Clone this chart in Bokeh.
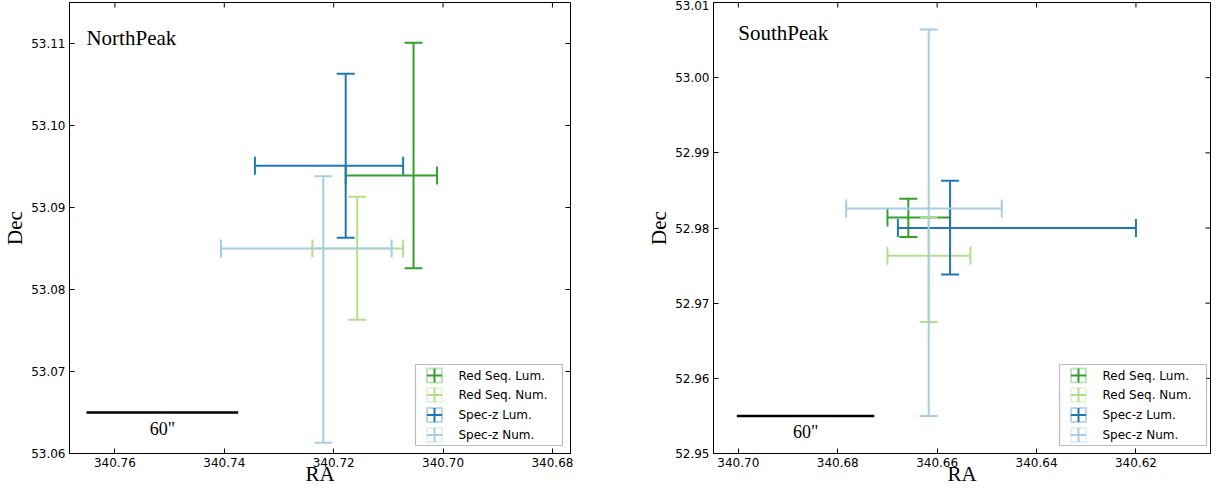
import math
from bokeh.plotting import figure
from bokeh.models import (Range1d, FixedTicker, PrintfTickFormatter, Whisker,
                          TeeHead, ColumnDataSource, BoxAnnotation, Label)
from bokeh.layouts import row
from bokeh.embed import file_html
from bokeh.resources import INLINE

SERIES = ["Red Seq. Lum.", "Red Seq. Num.", "Spec-z Lum.", "Spec-z Num."]
COLORS = ["#33a02c", "#b2df8a", "#1f78b4", "#a6cee3"]

# ---- NorthPeak (RA/Dec centres and error-bar extents, degrees)
N_RA      = [340.7054, 340.7157, 340.7178, 340.7219]
N_RA_EAST = [340.7178, 340.7239, 340.7344, 340.7406]
N_RA_WEST = [340.7011, 340.7073, 340.7073, 340.7094]
N_DEC     = [53.0939, 53.0850, 53.0951, 53.0850]
N_DEC_LO  = [53.0826, 53.0763, 53.0863, 53.0613]
N_DEC_HI  = [53.1101, 53.0913, 53.1063, 53.0938]

# ---- SouthPeak
S_RA      = [340.6658, 340.6617, 340.6574, 340.6617]
S_RA_EAST = [340.6700, 340.6700, 340.6679, 340.6783]
S_RA_WEST = [340.6574, 340.6533, 340.6200, 340.6470]
S_DEC     = [52.9814, 52.9763, 52.9800, 52.9826]
S_DEC_LO  = [52.9788, 52.9675, 52.9738, 52.9550]
S_DEC_HI  = [52.9839, 52.9814, 52.9863, 53.0064]

N_XRANGE, N_YRANGE = (340.7683, 340.6767), (53.06, 53.115)
S_XRANGE, S_YRANGE = (340.705, 340.605), (52.95, 53.01)
N_XTICKS = [340.76, 340.74, 340.72, 340.70, 340.68]
N_YTICKS = [53.06, 53.07, 53.08, 53.09, 53.10, 53.11]
S_XTICKS = [340.70, 340.68, 340.66, 340.64, 340.62]
S_YTICKS = [52.95, 52.96, 52.97, 52.98, 52.99, 53.00, 53.01]

SCALE_ARCSEC = 60
N_SCALE_RA0, N_SCALE_DEC = 340.7652, 53.065
S_SCALE_RA0, S_SCALE_DEC = 340.7003, 52.955
N_TITLE_POS = (340.7652, 53.1107)
S_TITLE_POS = (340.7000, 53.0060)

SERIF = "Liberation Serif"
SANS = "DejaVu Sans"


def style_axes(p, xt, yt, xr, yr):
    p.grid.visible = False
    p.outline_line_color = "black"
    p.outline_line_width = 1
    bx = p.below[0]
    ly = p.left[0]
    for ax, t in ((bx, xt), (ly, yt)):
        ax.axis_line_color = "black"
        ax.major_tick_line_color = "black"
        ax.major_tick_in = 5
        ax.major_tick_out = 0
        ax.minor_tick_line_color = None
        ax.ticker = FixedTicker(ticks=t)
        ax.formatter = PrintfTickFormatter(format="%.2f")
        ax.major_label_text_font = SANS
        ax.major_label_text_font_size = "12px"
        ax.major_label_text_color = "black"
        ax.major_label_standoff = 4
        ax.axis_label_text_font = SERIF
        ax.axis_label_text_font_size = "21px"
        ax.axis_label_text_font_style = "normal"
        ax.axis_label_text_color = "black"
    bx.axis_label = "RA"
    ly.axis_label = "Dec"
    bx.axis_label_standoff = -8
    ly.axis_label_standoff = 1
    # inward ticks on the top and right edges of the frame
    p.ray(x=xt, y=[yr[1]] * len(xt), length=5, length_units="screen", angle=-math.pi / 2,
          line_color="black", line_width=1)
    p.ray(x=[xr[1]] * len(yt), y=yt, length=5, length_units="screen", angle=math.pi,
          line_color="black", line_width=1)


def add_errorbars(p, ra, ra_e, ra_w, dec, dlo, dhi):
    for i, c in enumerate(COLORS):
        src = ColumnDataSource(dict(x=[ra[i]], y=[dec[i]], xlo=[ra_e[i]], xhi=[ra_w[i]],
                                    ylo=[dlo[i]], yhi=[dhi[i]]))
        mk = lambda: TeeHead(size=18, line_color=c, line_width=2)
        p.add_layout(Whisker(source=src, base="x", lower="ylo", upper="yhi", dimension="height",
                             line_color=c, line_width=2, lower_head=mk(), upper_head=mk()))
        p.add_layout(Whisker(source=src, base="y", lower="xlo", upper="xhi", dimension="width",
                             line_color=c, line_width=2, lower_head=mk(), upper_head=mk()))


def add_scalebar(p, ra0, dec):
    length = SCALE_ARCSEC / 3600.0 / math.cos(math.radians(dec))
    p.segment(x0=[ra0], y0=[dec], x1=[ra0 - length], y1=[dec], line_color="black", line_width=2.5)
    p.add_layout(Label(x=ra0 - length / 2, y=dec, text='60"', text_align="center",
                       text_baseline="middle", y_offset=-16, text_font=SERIF,
                       text_font_size="18px", text_color="black"))


def add_title(p, pos, text):
    p.add_layout(Label(x=pos[0], y=pos[1], text=text, text_align="left",
                       text_baseline="alphabetic", text_font=SERIF, text_font_size="21px",
                       text_color="black"))


def add_legend(p):
    s = "screen"
    p.add_layout(BoxAnnotation(left=346, right=493, bottom=8, top=89, left_units=s,
                               right_units=s, top_units=s, bottom_units=s, fill_color="white",
                               fill_alpha=1, line_color="#222222", line_width=1.2, level="overlay"))
    rows = [78, 58.5, 38.5, 18.5]
    gx, hw, hh = 365, 7.5, 7
    for yc, c, name in zip(rows, COLORS, SERIES):
        p.add_layout(BoxAnnotation(left=gx - hw, right=gx + hw, bottom=yc - hh, top=yc + hh,
                                   left_units=s, right_units=s, top_units=s, bottom_units=s,
                                   fill_alpha=0, line_color=c, line_width=2, level="overlay"))
        p.add_layout(BoxAnnotation(left=gx - 1, right=gx + 1, bottom=yc - hh, top=yc + hh,
                                   left_units=s, right_units=s, top_units=s, bottom_units=s,
                                   fill_color=c, fill_alpha=1, line_alpha=0, level="overlay"))
        p.add_layout(BoxAnnotation(left=gx - hw, right=gx + hw, bottom=yc - 1, top=yc + 1,
                                   left_units=s, right_units=s, top_units=s, bottom_units=s,
                                   fill_color=c, fill_alpha=1, line_alpha=0, level="overlay"))
        p.add_layout(Label(x=389, y=yc, x_units=s, y_units=s, text=name, text_baseline="middle",
                           text_font=SANS, text_font_size="12px", text_color="black",
                           level="overlay"))


p1 = figure(width=575, height=488, x_range=Range1d(*N_XRANGE), y_range=Range1d(*N_YRANGE),
            output_backend="svg", toolbar_location=None,
            min_border_left=63, min_border_right=5, min_border_top=2, min_border_bottom=0)
style_axes(p1, N_XTICKS, N_YTICKS, N_XRANGE, N_YRANGE)
add_errorbars(p1, N_RA, N_RA_EAST, N_RA_WEST, N_DEC, N_DEC_LO, N_DEC_HI)
add_scalebar(p1, N_SCALE_RA0, N_SCALE_DEC)
add_title(p1, N_TITLE_POS, "NorthPeak")
add_legend(p1)

p2 = figure(width=636, height=488, x_range=Range1d(*S_XRANGE), y_range=Range1d(*S_YRANGE),
            output_backend="svg", toolbar_location=None,
            min_border_left=138, min_border_right=1, min_border_top=0, min_border_bottom=0)
style_axes(p2, S_XTICKS, S_YTICKS, S_XRANGE, S_YRANGE)
add_errorbars(p2, S_RA, S_RA_EAST, S_RA_WEST, S_DEC, S_DEC_LO, S_DEC_HI)
add_scalebar(p2, S_SCALE_RA0, S_SCALE_DEC)
add_title(p2, S_TITLE_POS, "SouthPeak")
add_legend(p2)

layout = row(p1, p2)
open("out.html", "w").write(file_html(layout, INLINE))
